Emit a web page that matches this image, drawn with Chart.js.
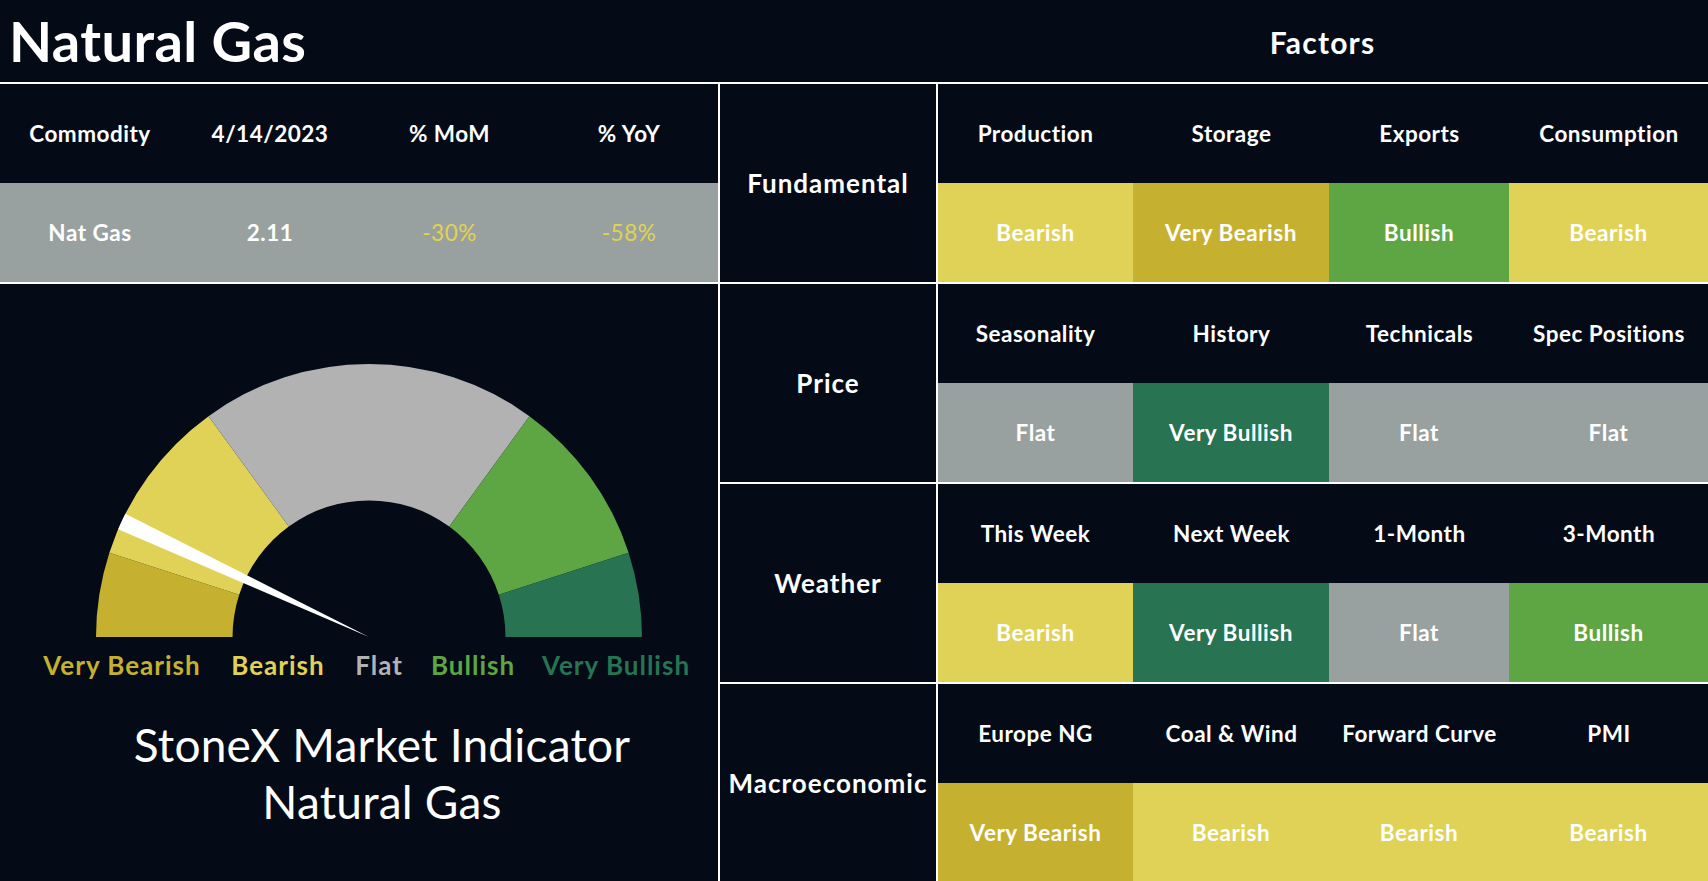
<!DOCTYPE html>
<html>
<head>
<meta charset="utf-8">
<script src="https://cdn.jsdelivr.net/npm/chart.js@4/dist/chart.umd.min.js"></script>
<style>
  html, body { margin:0; padding:0; background:#040B17; }
  body { width:1708px; height:881px; position:relative; overflow:hidden; font-family:Lato, "Noto Sans", sans-serif; color:#fff; }
  .abs { position:absolute; }
  .cell { position:absolute; display:flex; align-items:center; justify-content:center; text-align:center; font-weight:700; font-size:22.5px; letter-spacing:0.5px; color:#fff; white-space:nowrap; }
  .line { position:absolute; background:#fff; }
  canvas { position:absolute; }
</style>
</head>
<body>
<div id="root"></div>
<canvas id="gauge" width="546" height="273" style="left:96px;top:364px;width:546px;height:273px;"></canvas>
<canvas id="needle" width="546" height="273" style="left:96px;top:364px;width:546px;height:273px;"></canvas>
<script>
// ---------- DATA ----------
const pageTitle = 'Natural Gas';
const factorsTitle = 'Factors';
const commodityHeaders = ['Commodity', '4/14/2023', '% MoM', '% YoY'];
const commodityRow = ['Nat Gas', '2.11', '-30%', '-58%'];

const gaugeLabels = ['Very Bearish', 'Bearish', 'Flat', 'Bullish', 'Very Bullish'];
const gaugeValues = [1, 2, 4, 2, 1];
const needleValue = 1.39;   // position on the 0–10 gauge scale
const needleWidth = 0.2;

const factorGroups = ['Fundamental', 'Price', 'Weather', 'Macroeconomic'];
const fundamentalFactors = ['Production', 'Storage', 'Exports', 'Consumption'];
const fundamentalSignals = ['Bearish', 'Very Bearish', 'Bullish', 'Bearish'];
const priceFactors = ['Seasonality', 'History', 'Technicals', 'Spec Positions'];
const priceSignals = ['Flat', 'Very Bullish', 'Flat', 'Flat'];
const weatherFactors = ['This Week', 'Next Week', '1-Month', '3-Month'];
const weatherSignals = ['Bearish', 'Very Bullish', 'Flat', 'Bullish'];
const macroFactors = ['Europe NG', 'Coal & Wind', 'Forward Curve', 'PMI'];
const macroSignals = ['Very Bearish', 'Bearish', 'Bearish', 'Bearish'];

const gaugeText = ['StoneX Market Indicator', 'Natural Gas'];

// ---------- STYLES ----------
const signalColors = {
  'Very Bearish': '#C5B12F',
  'Bearish': '#E0D256',
  'Flat': '#98A19F',
  'Bullish': '#5EA644',
  'Very Bullish': '#277352'
};
const gaugeColors = ['#C5B12F', '#E0D256', '#B2B2B2', '#5EA644', '#277352'];
const legendTextColors = ['#C5B12F', '#E0D256', '#B2B2B2', '#5EA644', '#277352'];

const root = document.getElementById('root');
function el(cls, style, text) {
  const d = document.createElement('div');
  d.className = cls;
  Object.assign(d.style, style);
  if (text !== undefined) d.textContent = text;
  root.appendChild(d);
  return d;
}
const px = v => v + 'px';

// Title
el('abs', {left:'9px', top:'6px', fontSize:'56px', fontWeight:'700', lineHeight:'70px', letterSpacing:'0.4px'}, pageTitle);
el('cell', {left:'937px', top:'0px', width:'771px', height:'83px', fontSize:'30px', letterSpacing:'1.2px'}, factorsTitle);

// Commodity table
const leftCols = [0, 180, 360, 539, 719];
commodityHeaders.forEach((h, i) => {
  el('cell', {left:px(leftCols[i]), top:'84px', width:px(leftCols[i+1]-leftCols[i]), height:'99px'}, h);
});
el('abs', {left:'0px', top:'183px', width:'718px', height:'99px', background:'#98A19F'});
commodityRow.forEach((v, i) => {
  const c = el('cell', {left:px(leftCols[i]), top:'183px', width:px(leftCols[i+1]-leftCols[i]), height:'99px'}, v);
  if (v.trim().startsWith('-') || v.trim().startsWith('+')) { c.style.color = '#E2D34F'; c.style.fontWeight = '400'; }
});

// Gauge legend
const legendX = [122, 278, 379, 473, 616];
gaugeLabels.forEach((l, i) => {
  el('cell', {left:px(legendX[i]-100), top:'647px', width:'200px', height:'36px', fontSize:'26px', letterSpacing:'1px', color:legendTextColors[i]}, l);
});
el('cell', {left:'82px', top:'716px', width:'600px', height:'56px', fontSize:'46px', fontWeight:'400', letterSpacing:'0.2px'}, gaugeText[0]);
el('cell', {left:'82px', top:'773px', width:'600px', height:'56px', fontSize:'46px', fontWeight:'400', letterSpacing:'0.2px'}, gaugeText[1]);

// Factors grid
const colEdges = [937, 1133, 1329, 1509, 1708];
const groupFactors = [fundamentalFactors, priceFactors, weatherFactors, macroFactors];
const groupSignals = [fundamentalSignals, priceSignals, weatherSignals, macroSignals];
factorGroups.forEach((g, gi) => {
  const top = 83 + gi * 200;
  const bottom = gi === 3 ? 881 : top + 199;
  el('cell', {left:'720px', top:px(top+1), width:'216px', height:px(bottom-top-1), fontSize:'26px', letterSpacing:'1px'}, g);
  groupFactors[gi].forEach((f, i) => {
    el('cell', {left:px(colEdges[i]+1), top:px(top+1), width:px(colEdges[i+1]-colEdges[i]-1), height:'99px'}, f);
    const s = groupSignals[gi][i];
    el('cell', {left:px(i===0 ? colEdges[i]+1 : colEdges[i]), top:px(top+100), width:px(colEdges[i+1]-colEdges[i] - (i===0?1:0)), height:px(bottom-top-100), background:signalColors[s]}, s);
  });
});

// Lines
el('line', {left:'0px', top:'82px', width:'1708px', height:'2px'});
el('line', {left:'0px', top:'282px', width:'1708px', height:'2px'});
el('line', {left:'719px', top:'482px', width:'989px', height:'2px'});
el('line', {left:'719px', top:'682px', width:'989px', height:'2px'});
el('line', {left:'718px', top:'83px', width:'2px', height:'798px'});
el('line', {left:'936px', top:'83px', width:'2px', height:'798px'});

// ---------- GAUGE (Chart.js) ----------
const common = {
  responsive: false,
  maintainAspectRatio: false,
  animation: false,
  rotation: -90,
  circumference: 180,
  layout: { padding: 0 },
  plugins: { legend: { display: false }, tooltip: { enabled: false } },
  events: []
};
new Chart(document.getElementById('gauge'), {
  type: 'doughnut',
  data: { labels: gaugeLabels, datasets: [{ data: gaugeValues, backgroundColor: gaugeColors, borderWidth: 0 }] },
  options: Object.assign({}, common, { cutout: '50%' })
});
const gaugeTotal = gaugeValues.reduce((a, b) => a + b, 0);
new Chart(document.getElementById('needle'), {
  type: 'pie',
  data: {
    labels: ['', 'needle', ''],
    datasets: [{
      data: [needleValue - needleWidth / 2, needleWidth, gaugeTotal - needleValue - needleWidth / 2],
      backgroundColor: ['rgba(0,0,0,0)', '#FFFFFF', 'rgba(0,0,0,0)'],
      borderWidth: 0
    }]
  },
  options: Object.assign({}, common, { cutout: 0 })
});
</script>
</body>
</html>
